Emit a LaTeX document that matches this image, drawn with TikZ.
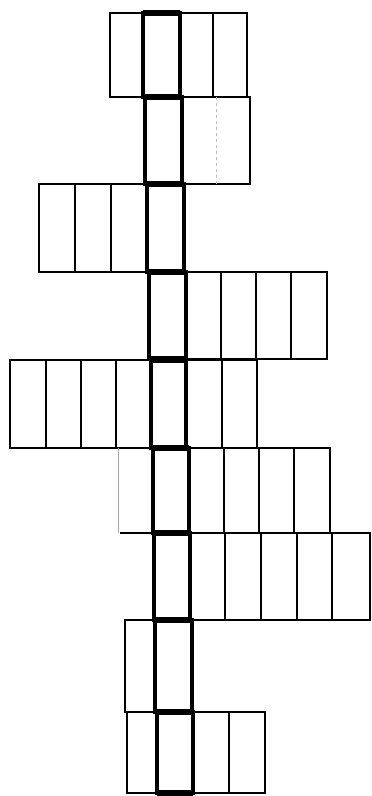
\documentclass[tikz,border=0pt]{standalone}
\usepackage{xcolor}
\usetikzlibrary{positioning}

\begin{document}
\begin{tikzpicture}[x=1pt, y=-1pt, node distance=0pt,
  cell/.style={rectangle, draw, line width=1.5pt, inner sep=0pt, outer sep=0pt, minimum width=35pt, minimum height=#1},
  core/.style={rectangle, draw, line width=4pt, inner sep=0pt, outer sep=0pt, minimum width=37pt, minimum height=#1},
  bar/.style={line width=6.5pt},
  faint/.style={line width=0.8pt, black!25, dashed}]

\useasboundingbox (0,0) rectangle (372,796);

% row 1
\node[core=84pt, anchor=north west] (c1) at (143,13) {};
\node[cell=84pt, minimum width=33pt, left=of c1] (l1a) {};
\node[cell=84pt, minimum width=33pt, right=of c1] (r1a) {};
\node[cell=84pt, minimum width=34pt, right=of r1a] (r1b) {};

% row 2
\node[core=87pt, anchor=north west] (c2) at (145,97) {};
\node[cell=87pt, minimum width=68pt, right=of c2] (r2a) {};
\draw[faint] (r2a.north) -- (r2a.south);

% row 3
\node[core=88pt, anchor=north west] (c3) at (147,184) {};
\node[cell=88pt, minimum width=36pt, left=of c3] (l3a) {};
\node[cell=88pt, minimum width=36pt, left=of l3a] (l3b) {};
\node[cell=88pt, minimum width=36pt, left=of l3b] (l3c) {};

% row 4
\node[core=87pt, anchor=north west] (c4) at (149,272) {};
\node[cell=87pt, right=of c4] (r4a) {};
\node[cell=87pt, right=of r4a] (r4b) {};
\node[cell=87pt, right=of r4b] (r4c) {};
\node[cell=87pt, minimum width=36pt, right=of r4c] (r4d) {};

% row 5
\node[core=88pt, minimum width=35pt, anchor=north west] (c5) at (151,360) {};
\node[cell=88pt, left=of c5] (l5a) {};
\node[cell=88pt, left=of l5a] (l5b) {};
\node[cell=88pt, left=of l5b] (l5c) {};
\node[cell=88pt, minimum width=36pt, left=of l5c] (l5d) {};
\node[cell=88pt, minimum width=36pt, right=of c5] (r5a) {};
\node[cell=88pt, right=of r5a] (r5b) {};

% row 6
\node[core=85pt, minimum width=36pt, anchor=north west] (c6) at (153,448) {};
\node[cell=85pt, draw=none, left=of c6] (l6a) {};
\draw[faint, solid, black!35] (l6a.north west) -- (l6a.south west);
\node[cell=85pt, right=of c6] (r6a) {};
\node[cell=85pt, right=of r6a] (r6b) {};
\node[cell=85pt, right=of r6b] (r6c) {};
\node[cell=85pt, minimum width=36pt, right=of r6c] (r6d) {};

% row 7
\node[core=87pt, minimum width=36pt, anchor=north west] (c7) at (154,533) {};
\coordinate (s7) at (120,533);
\draw[line width=2.5pt] (s7) -- (c7.north west);
\node[cell=87pt, right=of c7] (r7a) {};
\node[cell=87pt, minimum width=36pt, right=of r7a] (r7b) {};
\node[cell=87pt, minimum width=36pt, right=of r7b] (r7c) {};
\node[cell=87pt, right=of r7c] (r7d) {};
\node[cell=87pt, minimum width=38pt, right=of r7d] (r7e) {};

% row 8
\node[core=92pt, anchor=north west] (c8) at (155,620) {};
\node[cell=92pt, minimum width=30pt, left=of c8] (l8a) {};

% row 9
\node[core=81pt, minimum width=36pt, anchor=north west] (c9) at (157,712) {};
\node[cell=81pt, minimum width=30pt, left=of c9] (l9a) {};
\node[cell=81pt, minimum width=36pt, right=of c9] (r9a) {};
\node[cell=81pt, minimum width=36pt, right=of r9a] (r9b) {};

% thick bars on the middle column
\foreach \n in {1,...,9}
  \draw[bar] (c\n.north west) -- (c\n.north east) (c\n.south west) -- (c\n.south east);

\end{tikzpicture}
\end{document}
